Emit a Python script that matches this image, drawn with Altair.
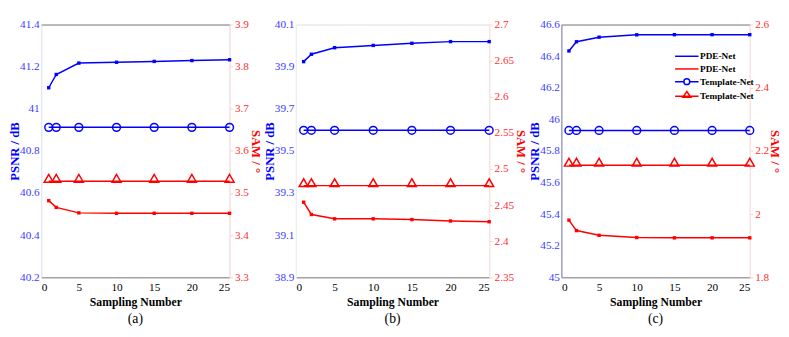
import altair as alt
import pandas as pd

# ---------------- data ----------------
x_vals = [1, 2, 5, 10, 15, 20, 25]
x_ticks = [0, 5, 10, 15, 20, 25]

# panel (a)
psnr_pde_a = [41.100, 41.163, 41.217, 41.221, 41.225, 41.229, 41.233]
psnr_tmpl_a = [40.912, 40.912, 40.912, 40.912, 40.912, 40.912, 40.912]
sam_pde_a = [3.482, 3.466, 3.453, 3.452, 3.452, 3.452, 3.452]
sam_tmpl_a = [3.528, 3.528, 3.528, 3.528, 3.528, 3.528, 3.528]
psnr_ticks_a = [40.2, 40.4, 40.6, 40.8, 41.0, 41.2, 41.4]
sam_ticks_a = [3.3, 3.4, 3.5, 3.6, 3.7, 3.8, 3.9]

# panel (b)
psnr_pde_b = [39.924, 39.959, 39.990, 40.001, 40.011, 40.019, 40.019]
psnr_tmpl_b = [39.598, 39.598, 39.598, 39.598, 39.598, 39.598, 39.598]
sam_pde_b = [2.454, 2.437, 2.431, 2.431, 2.430, 2.428, 2.427]
sam_tmpl_b = [2.477, 2.477, 2.477, 2.477, 2.477, 2.477, 2.477]
psnr_ticks_b = [38.9, 39.1, 39.3, 39.5, 39.7, 39.9, 40.1]
sam_ticks_b = [2.35, 2.4, 2.45, 2.5, 2.55, 2.6, 2.65, 2.7]

# panel (c)
psnr_pde_c = [46.433, 46.491, 46.520, 46.535, 46.536, 46.536, 46.536]
psnr_tmpl_c = [45.930, 45.930, 45.930, 45.930, 45.930, 45.930, 45.930]
sam_pde_c = [1.981, 1.948, 1.933, 1.926, 1.925, 1.925, 1.925]
sam_tmpl_c = [2.155, 2.155, 2.155, 2.155, 2.155, 2.155, 2.155]
psnr_ticks_c = [45.0, 45.2, 45.4, 45.6, 45.8, 46.0, 46.2, 46.4, 46.6]
sam_ticks_c = [1.8, 2.0, 2.2, 2.4, 2.6]

# legend
legend_keys = ["PDE-Net", "PDE-Net ", "Template-Net", "Template-Net "]
legend_colors = ["#0000ff", "#ff0000", "#0000ff", "#ff0000"]
legend_shapes = [
    "M-1.6,0H1.6",
    "M-1.6,0H1.6",
    "M-1.6,0H-0.4M0.4,0H1.6M0.4,0A0.4,0.4,0,1,1,-0.4,0A0.4,0.4,0,1,1,0.4,0Z",
    "M-1.6,0H1.6M0,-0.65L0.55,0.15L-0.55,0.15Z",
]

BLUE = "#0000ff"
RED = "#ff0000"
BLUE_TXT = "#3b3bff"
RED_TXT = "#ff3030"
FONT = "Liberation Serif, Times New Roman, serif"
H = 259


def panel(psnr_pde, psnr_tmpl, sam_pde, sam_tmpl, psnr_ticks, sam_ticks,
          sam_fmt, width, caption, top_line, left_domain, right_tpad, legend=None):
    df = pd.DataFrame({
        "x": x_vals,
        "psnr_pde": psnr_pde,
        "psnr_tmpl": psnr_tmpl,
        "sam_pde": sam_pde,
        "sam_tmpl": sam_tmpl,
    })
    base = alt.Chart(df)
    xs = alt.Scale(domain=[0, 25], nice=False, zero=False)
    x_bottom = alt.X("x:Q", scale=xs, axis=alt.Axis(
        values=x_ticks, title="Sampling Number", grid=False, ticks=False,
        labelFont=FONT, labelFontSize=11.5, labelColor="black", labelPadding=4,
        titleFont=FONT, titleFontSize=12, titleFontWeight="bold",
        titleColor="black", titlePadding=4, domainColor="#808080"))
    x_top = alt.X("x:Q", scale=xs, axis=alt.Axis(
        orient="top", values=x_ticks, labels=False, ticks=False, title=None,
        grid=False, domain=top_line, domainColor="#808080"))
    x_none = alt.X("x:Q", scale=xs, axis=None)

    ys_l = alt.Scale(domain=[psnr_ticks[0], psnr_ticks[-1]], nice=False, zero=False)
    ys_r = alt.Scale(domain=[sam_ticks[0], sam_ticks[-1]], nice=False, zero=False)
    left_axis = alt.Axis(
        orient="left", values=psnr_ticks, format=".1~f", title="PSNR / dB",
        grid=False, ticks=False, labelPadding=2,
        labelFont=FONT, labelFontSize=11.5, labelColor=BLUE_TXT,
        titleFont=FONT, titleFontSize=13, titleFontWeight="bold",
        titleColor=BLUE, titlePadding=-2, domainColor=left_domain)
    right_axis = alt.Axis(
        orient="right", values=sam_ticks, format=sam_fmt, title="SAM / °",
        grid=False, ticks=True, tickSize=3, tickColor="#ffc8c8",
        labelPadding=2,
        labelFont=FONT, labelFontSize=11.5, labelColor=RED_TXT,
        titleFont=FONT, titleFontSize=13, titleFontWeight="bold",
        titleColor=RED, titlePadding=right_tpad, domainColor="#ffe0e0")

    layers = [
        base.mark_line(color=BLUE, strokeWidth=1.5).encode(
            x=x_bottom, y=alt.Y("psnr_pde:Q", scale=ys_l, axis=left_axis)),
        base.mark_line(color=RED, strokeWidth=1.5).encode(
            x=x_top, y=alt.Y("sam_pde:Q", scale=ys_r, axis=right_axis)),
        base.mark_point(shape="square", filled=True, color=BLUE, size=12,
                        opacity=1).encode(
            x=x_none, y=alt.Y("psnr_pde:Q", scale=ys_l, axis=None)),
        base.mark_line(color=BLUE, strokeWidth=1.5).encode(
            x=x_none, y=alt.Y("psnr_tmpl:Q", scale=ys_l, axis=None)),
        base.mark_point(shape="circle", filled=False, color=BLUE, size=64,
                        strokeWidth=1.5, opacity=1).encode(
            x=x_none, y=alt.Y("psnr_tmpl:Q", scale=ys_l, axis=None)),
        base.mark_point(shape="square", filled=True, color=RED, size=12,
                        opacity=1).encode(
            x=x_none, y=alt.Y("sam_pde:Q", scale=ys_r, axis=None)),
        base.mark_line(color=RED, strokeWidth=1.5).encode(
            x=x_none, y=alt.Y("sam_tmpl:Q", scale=ys_r, axis=None)),
        base.mark_point(shape="triangle-up", filled=False, color=RED, size=85,
                        strokeWidth=1.5, opacity=1, yOffset=-3).encode(
            x=x_none, y=alt.Y("sam_tmpl:Q", scale=ys_r, axis=None)),
    ]
    if legend is not None:
        layers.append(legend)
    ch = alt.layer(*layers).resolve_scale(y="independent").resolve_axis(x="independent")
    return ch.properties(
        width=width, height=H,
        title=alt.TitleParams(caption, orient="bottom", font=FONT, fontSize=14,
                              fontWeight="normal", color="black", offset=5),
    )


legend_kw = dict(
    title=None, orient="none", legendX=120, legendY=24,
    labelFont=FONT, labelFontSize=9.5, labelFontWeight="bold",
    labelColor="black", symbolSize=225, symbolStrokeWidth=1.5,
    rowPadding=0, labelOffset=5, padding=0,
)
legend_df = pd.DataFrame({"series": pd.Series([], dtype="object")})
legend_layer = alt.Chart(legend_df).mark_point(
    filled=False, opacity=1, strokeWidth=1.5).encode(
    color=alt.Color("series:N", scale=alt.Scale(domain=legend_keys, range=legend_colors),
                    legend=alt.Legend(**legend_kw)),
    shape=alt.Shape("series:N", scale=alt.Scale(domain=legend_keys, range=legend_shapes),
                    legend=alt.Legend(**legend_kw)),
)

pa = panel(psnr_pde_a, psnr_tmpl_a, sam_pde_a, sam_tmpl_a, psnr_ticks_a,
           sam_ticks_a, ".1~f", 193, "(a)", True, "#e6e6fa", 0)
pb = panel(psnr_pde_b, psnr_tmpl_b, sam_pde_b, sam_tmpl_b, psnr_ticks_b,
           sam_ticks_b, ".2~f", 198, "(b)", False, "#eeeefc", 0)
pc = panel(psnr_pde_c, psnr_tmpl_c, sam_pde_c, sam_tmpl_c, psnr_ticks_c,
           sam_ticks_c, ".1~f", 193, "(c)", True, "#7a7ab8", -1, legend=legend_layer)

chart = alt.hconcat(pa, pb, pc, spacing=1).resolve_legend(
    color="independent", shape="independent"
).properties(
    padding={"left": 0, "top": 6, "right": 0, "bottom": 0}
).configure_view(strokeWidth=0).configure(font=FONT)

chart.save("out.html", embed_options={"renderer": "svg", "actions": False})
